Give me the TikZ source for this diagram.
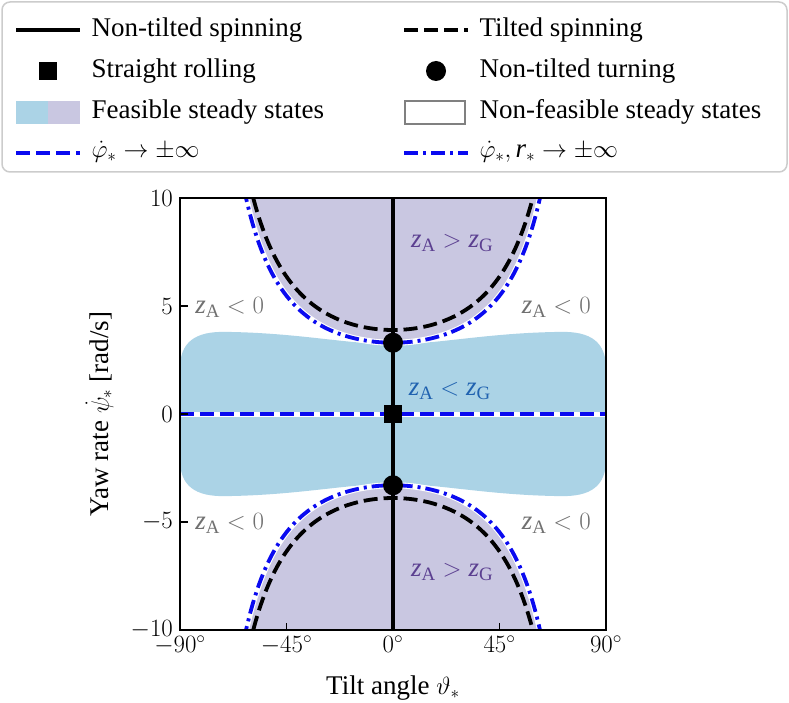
\documentclass[tikz,border=0pt]{standalone}
\usepackage{amsmath}
\usepackage{fontspec}
\setmainfont{Liberation Serif}
\newcommand{\zA}{\textit{z}_{\text{A}}}
\newcommand{\zG}{\textit{z}_{\text{G}}}
\definecolor{lblue}{HTML}{ABD3E6}
\definecolor{lpurp}{HTML}{C9C7E1}
\definecolor{tpurp}{HTML}{5B3F90}
\definecolor{tblue}{HTML}{2062B0}
\definecolor{tgray}{HTML}{707070}
\definecolor{pblue}{HTML}{0A0AF0}
\tikzset{
  bdash/.style={pblue,line width=3.8pt,dash pattern=on 14pt off 6pt},
  bdashdot/.style={pblue,line width=3.8pt,dash pattern=on 14pt off 5pt on 3pt off 5pt},
  kdash/.style={black,line width=3.8pt,dash pattern=on 14pt off 6pt},
  wline/.style={white,line width=6pt},
  txt/.style={font=\fontsize{27}{32}\selectfont},
  lab/.style={font=\fontsize{27}{32}\selectfont,anchor=west}
}
\begin{document}
\begin{tikzpicture}[x=1pt,y=-1pt]
\useasboundingbox (0,0) rectangle (789,703);
% legend
\draw[rounded corners=8pt,gray!40,line width=1.5pt,fill=white] (2,2) rectangle (787,172);
\draw[black,line width=3.8pt] (16,30) -- (80,30);
\node[lab] (l1) at (88,30) {Non-tilted spinning};
\draw[kdash] (404,30) -- (468,30);
\node[lab] (l2) at (476,30) {Tilted spinning};
\fill (39,62) rectangle (57,80);
\node[lab] (l3) at (88,71) {Straight rolling};
\fill (436,71) circle (10pt);
\node[lab] (l4) at (476,71) {Non-tilted turning};
\fill[lblue] (16,101) rectangle (48,124);
\fill[lpurp] (48,101) rectangle (80,124);
\node[lab] (l5) at (88,112) {Feasible steady states};
\draw[gray,line width=2pt] (405,101) rectangle (465,124);
\node[lab] (l6) at (476,112) {Non-feasible steady states};
\draw[bdash] (16,153) -- (80,153);
\node[lab] (l7) at (88,152) {$\dot{\varphi}_{*} \rightarrow \pm\infty$};
\draw[bdashdot] (404,153) -- (468,153);
\node[lab] (l8) at (476,152) {$\dot{\varphi}_{*}, \textit{r}_{*} \rightarrow \pm\infty$};
% data
\begin{scope}[shift={(393,414)},x=2.367pt,y=21.6pt]
\begin{scope}
\clip (-90,-10) rectangle (90,10);
\fill[lblue] (-90,2.1) .. controls (-90,3.3) and (-84,3.85) .. (-70,3.8)
  .. controls (-40,3.75) and (-20,3.25) .. (0,3.22)
  .. controls (20,3.25) and (40,3.75) .. (70,3.8)
  .. controls (84,3.85) and (90,3.3) .. (90,2.1)
  -- (90,-2.1) .. controls (90,-3.3) and (84,-3.85) .. (70,-3.8)
  .. controls (40,-3.75) and (20,-3.25) .. (0,-3.22)
  .. controls (-20,-3.25) and (-40,-3.75) .. (-70,-3.8)
  .. controls (-84,-3.85) and (-90,-3.3) .. (-90,-2.1) -- cycle;
\fill[lpurp] plot[domain=-63:63,samples=120,smooth] (\x,{3.3/cos(\x)^1.46}) -- cycle;
\fill[lpurp] plot[domain=-63:63,samples=120,smooth] (\x,{-3.3/cos(\x)^1.46}) -- cycle;
\foreach \s in {1,-1}{
  \draw[wline] plot[domain=-63:63,samples=120,smooth] (\x,{\s*3.3/cos(\x)^1.46});
  \draw[bdashdot] plot[domain=-63:63,samples=120,smooth] (\x,{\s*3.3/cos(\x)^1.46});
  \draw[kdash] plot[domain=-61:61,samples=120,smooth] (\x,{\s*3.89/cos(\x)^1.42});
}
\draw[black,line width=3.8pt] (0,-10) -- (0,10);
\draw[white,line width=5pt] (-90,0) -- (90,0);
\draw[bdash] (-90,0) -- (90,0);
\end{scope}
\fill (0,3.3) circle (10pt);
\fill (0,-3.3) circle (10pt);
\fill (-3.8,-0.42) rectangle (3.8,0.42);
\node[txt,text=tpurp] (p1) at (25,7.9) {$\zA > \zG$};
\node[txt,text=tpurp] (p2) at (25,-7.3) {$\zA > \zG$};
\node[txt,text=tblue] (p3) at (24,1.05) {$\zA < \zG$};
\node[txt,text=tgray] (g1) at (-69,4.95) {$\zA < 0$};
\node[txt,text=tgray] (g2) at (69,4.95) {$\zA < 0$};
\node[txt,text=tgray] (g3) at (-69,-5.05) {$\zA < 0$};
\node[txt,text=tgray] (g4) at (69,-5.05) {$\zA < 0$};
\draw[line width=2pt] (-90,-10) rectangle (90,10);
\foreach \t/\l in {-90/$-90^\circ$,-45/$-45^\circ$,0/$0^\circ$,45/$45^\circ$,90/$90^\circ$}{
  \draw[line width=1.6pt] (\t,-10) -- ++(0,0.33);
  \node[txt,anchor=north] at (\t,-10.1) {\l};
}
\foreach \t/\l in {-10/$-10$,-5/$-5$,0/$0$,5/$5$,10/$10$}{
  \draw[line width=1.6pt] (-90,\t) -- ++(3.2,0);
  \node[txt,anchor=east] at (-91.5,\t) {\l};
}
\node[txt] (xl) at (0,-12.7) {Tilt angle $\vartheta_{*}$};
\node[txt,rotate=90] (yl) at (-124,0) {Yaw rate $\dot{\psi}_{*}$ [rad/s]};
\end{scope}
\end{tikzpicture}
\end{document}
